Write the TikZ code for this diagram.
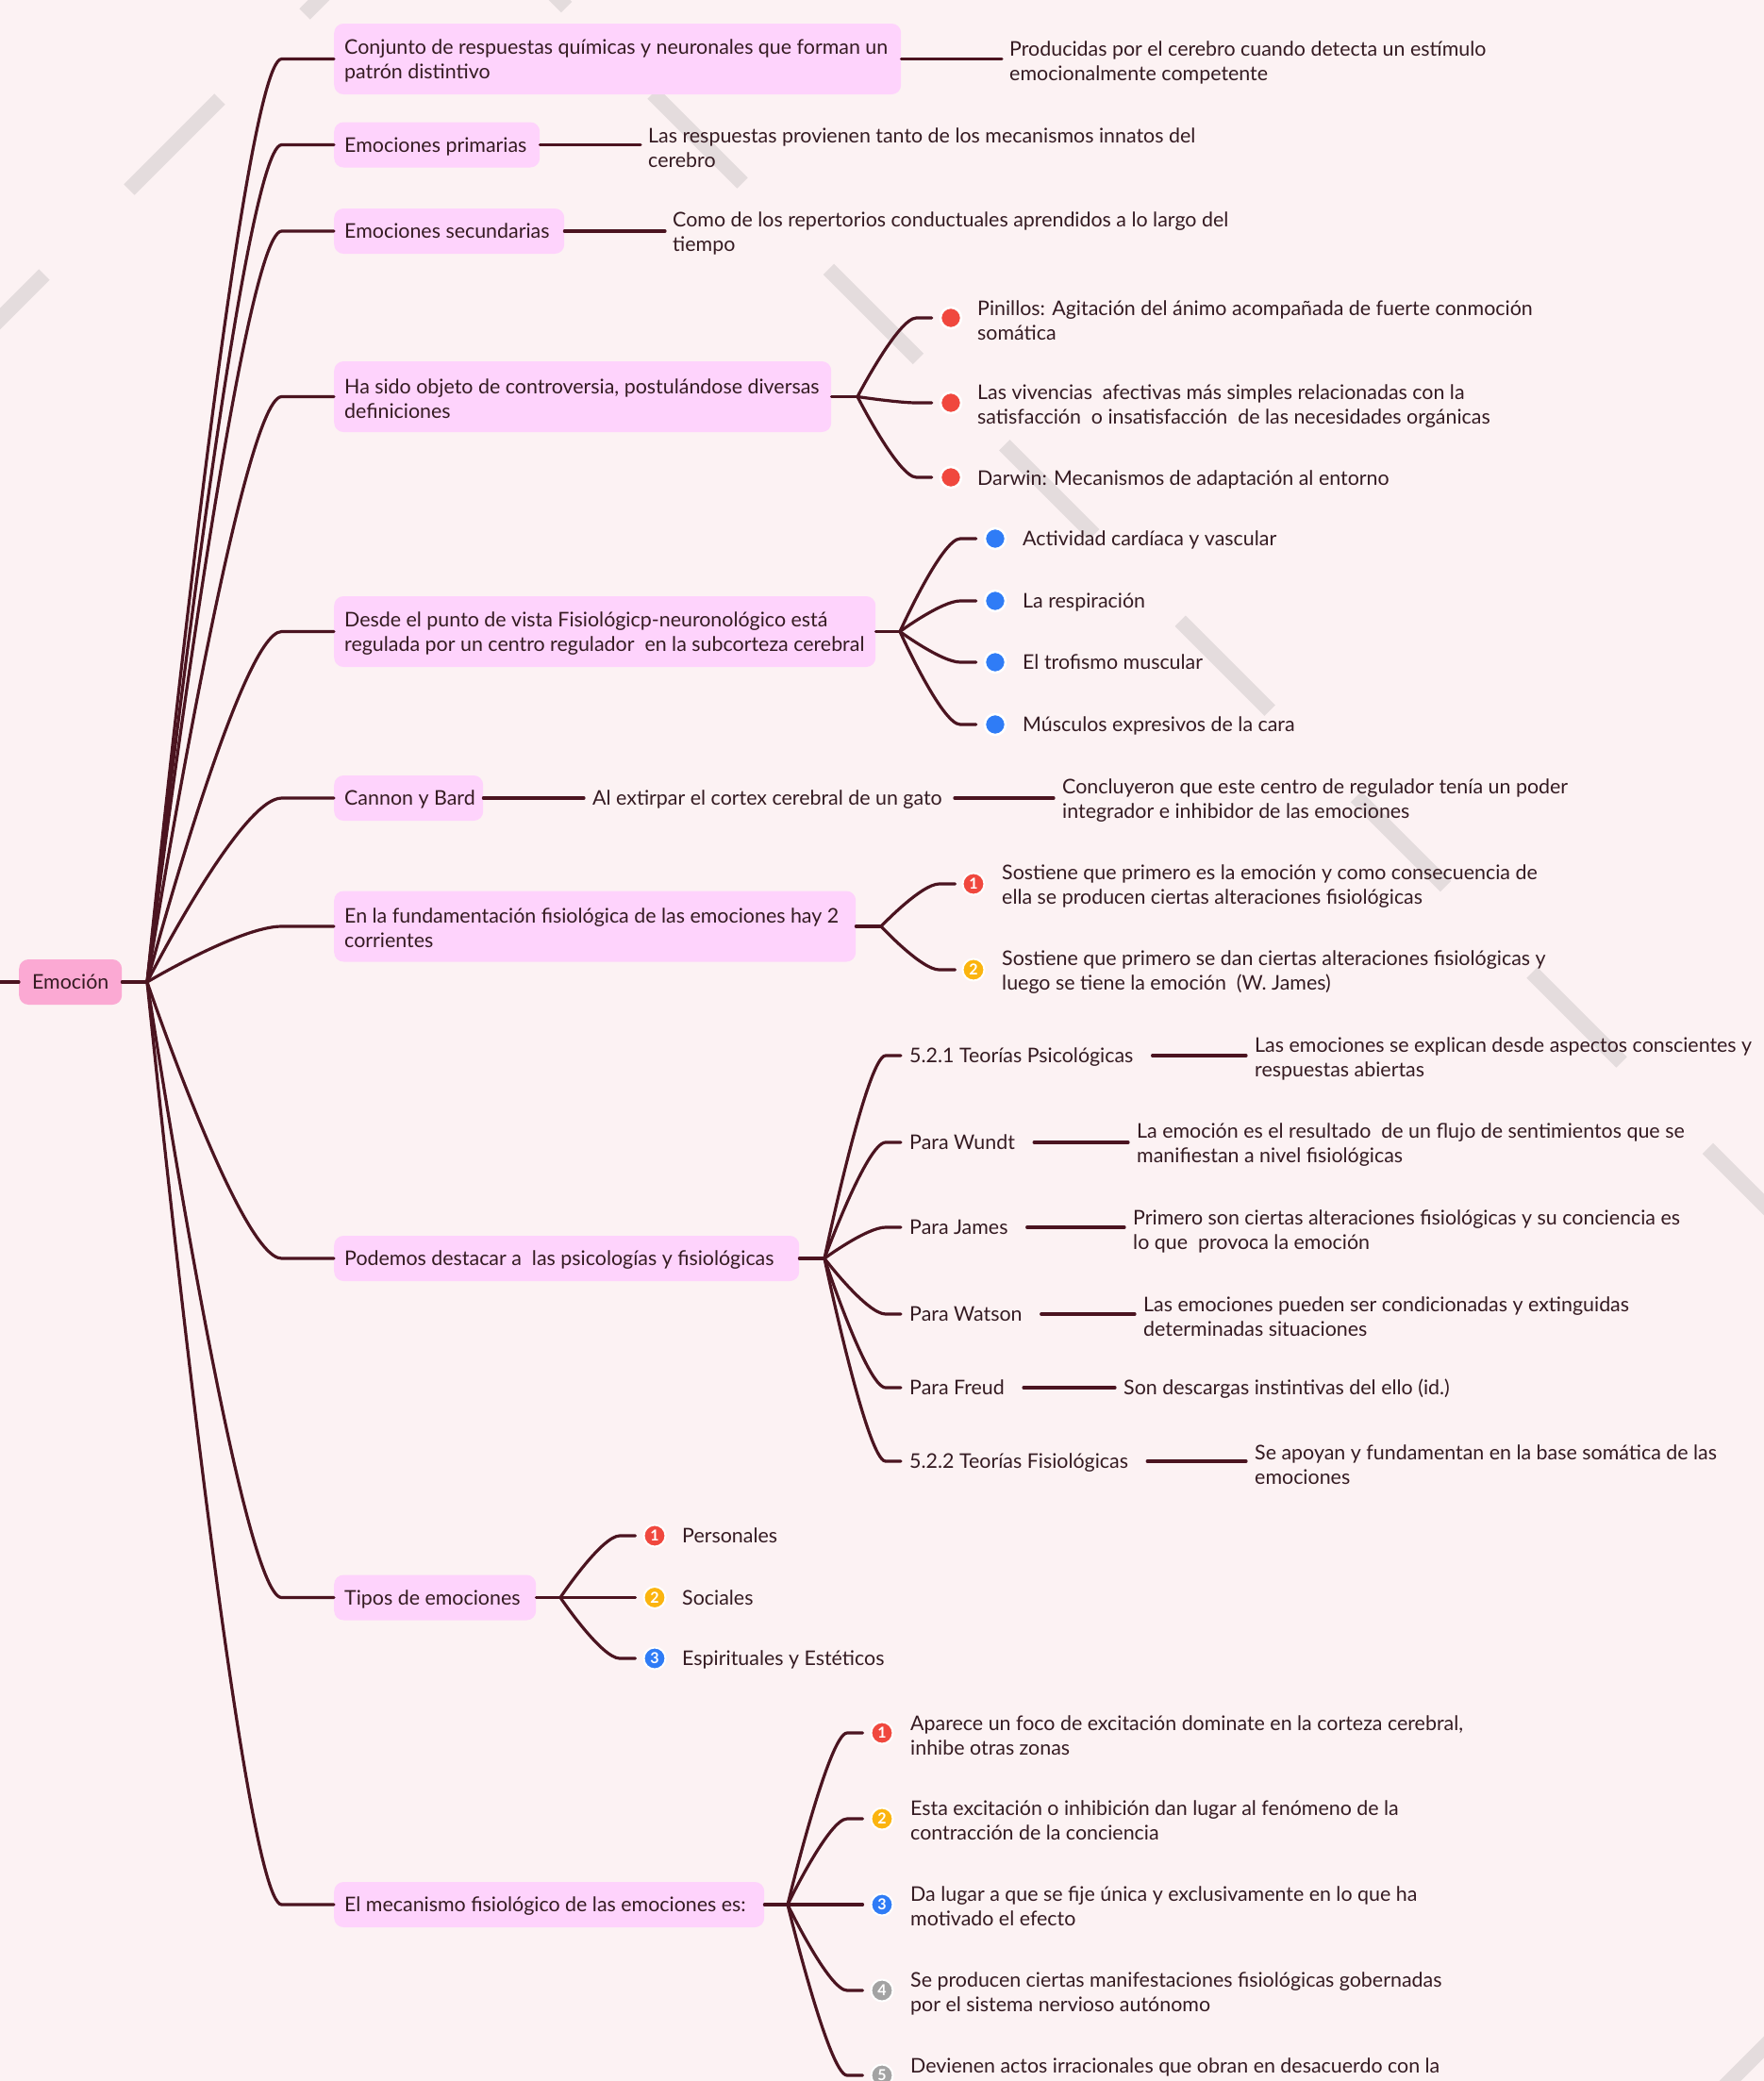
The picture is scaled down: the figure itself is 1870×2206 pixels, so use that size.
\documentclass[tikz,border=0pt]{standalone}
\usepackage{fontspec}
\setmainfont{Lato}
\usetikzlibrary{calc}
\definecolor{bgc}{HTML}{FCF2F3}
\definecolor{lnc}{HTML}{4B1420}
\definecolor{txc}{HTML}{351B22}
\definecolor{bxc}{HTML}{FED3FC}
\definecolor{rtc}{HTML}{FBA9D3}
\definecolor{wmc}{HTML}{E4DCDD}
\definecolor{crc}{HTML}{F0483E}
\definecolor{cyc}{HTML}{FBB40F}
\definecolor{cbc}{HTML}{2F7CF6}
\definecolor{cgc}{HTML}{A3A3A3}
\newcommand{\topstrut}{\rule{0pt}{20pt}}
\newcommand{\bline}[1]{\mbox{\spaceskip=0pt\xspaceskip=0pt\relax #1}}
\begin{document}
\begin{tikzpicture}[x=1pt,y=-1pt,
  every node/.style={text=txc, font=\fontsize{21.4}{26}\selectfont},
  conn/.style={draw=lnc, line width=3.2pt, line cap=round},
  curvy/.style={to path={let \p1=(\tikztostart), \p2=(\tikztotarget) in
     .. controls (\p1) and ({\x1+0.5*(\x2-\x1)},\y2) .. ({\x1+0.72*(\x2-\x1)},\y2) -- (\p2)}},
  box/.style={fill=bxc, rounded corners=10pt, anchor=west, inner xsep=11pt, inner ysep=0pt, align=left},
  sbox/.style={box, text height=17.5pt, text depth=2.5pt, minimum height=48pt},
  dbox/.style={box, minimum height=75pt},
  txt/.style={anchor=west, inner sep=0pt, align=left, yshift=-2pt},
  one/.style={anchor=west, inner sep=0pt, text height=17.5pt, text depth=2.5pt},
  bul/.style={circle, fill=#1, draw=white, line width=2.5pt, minimum size=22pt, inner sep=0pt},
  nbadge/.style={circle, fill=#1, draw=white, line width=2pt, minimum size=23pt, inner sep=0pt, text=white, font=\fontsize{16}{16}\selectfont\bfseries},
  wm/.style={draw=wmc, line width=16pt}
]
\useasboundingbox (0,0) rectangle (1870,2206);
\clip (0,0) rectangle (1870,2206);
\fill[bgc] (0,0) rectangle (1870,2206);

% watermark stripes
\foreach \s in {505.6,692,878.4,1064.8,1251.2,1437.6,1624,1810.4}
  \draw[wm] (\s,{\s-593}) -- ({\s+95},{\s-498});
\foreach \s in {-49,137,323}
  \draw[wm] (\s,{338-\s}) -- ({\s+96},{242-\s});
\draw[wm] (1790,2250) -- (1886,2154);

% root
\node[sbox, minimum width=109pt, fill=rtc] (root) at (20,1041) {Emoción};
\coordinate (L) at (0,1041);
\coordinate (R) at (156,1041);
\draw[conn] (L) -- (root.west);
\draw[conn] (root.east) -- (R);

% level 1
\node[dbox, text width=579pt] (b1) at (354,62.5) {\bline{\topstrut Conjunto de respuestas químicas y neuronales que forman un}\\\bline{patrón distintivo}};
\node[sbox, text width=196pt] (b2) at (354,153.5) {\bline{Emociones primarias}};
\node[sbox, text width=222pt] (b3) at (354,245) {\bline{Emociones secundarias}};
\node[dbox, text width=505pt] (b4) at (354,420.5) {\bline{\topstrut Ha sido objeto de controversia, postulándose diversas}\\\bline{definiciones}};
\node[dbox, text width=552pt] (b5) at (354,669.5) {\bline{\topstrut Desde el punto de vista Fisiológicp-neuronológico está}\\\bline{regulada por un centro regulador~ en la subcorteza cerebral}};
\node[sbox, text width=136pt] (b6) at (354,846) {\bline{Cannon y Bard}};
\node[dbox, text width=531pt] (b7) at (354,982) {\bline{\topstrut En la fundamentación fisiológica de las emociones hay 2}\\\bline{corrientes}};
\node[sbox, text width=471pt] (b8) at (354,1334) {\bline{Podemos destacar a~ las psicologías y fisiológicas}};
\node[sbox, text width=192pt] (b9) at (354,1693.5) {\bline{Tipos de emociones}};
\node[sbox, text width=434pt] (b10) at (354,2019) {\bline{El mecanismo fisiológico de las emociones es:}};
\foreach \i in {1,...,10} \draw[conn] (R) to[curvy] (b\i.west);

% b1-b3
\node[txt] (t1) at (1070,64) {Producidas por el cerebro cuando detecta un estímulo\\emocionalmente competente};
\node[txt] (t2) at (687,155) {Las respuestas provienen tanto de los mecanismos innatos del\\cerebro};
\node[txt] (t3) at (713,245) {Como de los repertorios conductuales aprendidos a lo largo del\\tiempo};
\draw[conn, shorten >=8pt] (b1.east) -- (b1.east -| t1.west);
\draw[conn, shorten >=8pt] (b2.east) -- (b2.east -| t2.west);
\draw[conn, shorten >=8pt] (b3.east) -- (b3.east -| t3.west);

% b4
\coordinate (j4) at (909,420.5);
\draw[conn] (b4.east) -- (j4);
\node[bul=crc] (d41) at (1008,337) {};
\node[bul=crc] (d42) at (1008,427) {};
\node[bul=crc] (d43) at (1008,506) {};
\foreach \k in {1,2,3} \draw[conn, shorten >=8pt] (j4) to[curvy] (d4\k.west);
\node[txt] (t41) at (1036,337.5) {Pinillos: Agitación del ánimo acompañada de fuerte conmoción\\somática};
\node[txt] (t42) at (1036,428.5) {Las vivencias~ afectivas más simples relacionadas con la\\satisfacción~ o insatisfacción~ de las necesidades orgánicas};
\node[one] (t43) at (1036,507) {Darwin: Mecanismos de adaptación al entorno};

% b5
\coordinate (j5) at (954,669.5);
\draw[conn] (b5.east) -- (j5);
\node[bul=cbc] (d51) at (1055,571) {};
\node[bul=cbc] (d52) at (1055,637) {};
\node[bul=cbc] (d53) at (1055,702) {};
\node[bul=cbc] (d54) at (1055,768) {};
\foreach \k in {1,2,3,4} \draw[conn, shorten >=8pt] (j5) to[curvy] (d5\k.west);
\node[one] (t51) at (1084,571) {Actividad cardíaca y vascular};
\node[one] (t52) at (1084,637) {La respiración};
\node[one] (t53) at (1084,702) {El trofismo muscular};
\node[one] (t54) at (1084,768) {Músculos expresivos de la cara};

% b6
\node[one] (t61) at (628,846) {Al extirpar el cortex cerebral de un gato};
\node[txt] (t62) at (1126,846.5) {Concluyeron que este centro de regulador tenía un poder\\integrador e inhibidor de las emociones};
\draw[conn, shorten >=9pt] (b6.east) -- (b6.east -| t61.west);
\draw[conn, shorten <=13pt, shorten >=9pt] (t61.east) -- (t61.east -| t62.west);

% b7
\coordinate (j7) at (934,982);
\draw[conn] (b7.east) -- (j7);
\node[nbadge=crc] (n71) at (1032,937) {1};
\node[nbadge=cyc] (n72) at (1032,1028) {2};
\draw[conn, shorten >=7pt] (j7) to[curvy] (n71.west);
\draw[conn, shorten >=7pt] (j7) to[curvy] (n72.west);
\node[txt] (t71) at (1062,938) {Sostiene que primero es la emoción y como consecuencia de\\ella se producen ciertas alteraciones fisiológicas};
\node[txt] (t72) at (1062,1029) {Sostiene que primero se dan ciertas alteraciones fisiológicas y\\luego se tiene la emoción~ (W. James)};

% b8
\coordinate (j8) at (874,1334);
\draw[conn] (b8.east) -- (j8);
\node[one] (p1) at (964,1119) {5.2.1 Teorías Psicológicas};
\node[one] (p2) at (964,1211) {Para Wundt};
\node[one] (p3) at (964,1301) {Para James};
\node[one] (p4) at (964,1393) {Para Watson};
\node[one] (p5) at (964,1471) {Para Freud};
\node[one] (p6) at (964,1549) {5.2.2 Teorías Fisiológicas};
\foreach \k in {1,...,6} \draw[conn, shorten >=9pt] (j8) to[curvy] (p\k.west);
\node[txt] (q1) at (1330,1120) {Las emociones se explican desde aspectos conscientes y\\respuestas abiertas};
\node[txt] (q2) at (1205,1211.5) {La emoción es el resultado~ de un flujo de sentimientos que se\\manifiestan a nivel fisiológicas};
\node[txt] (q3) at (1201,1303) {Primero son ciertas alteraciones fisiológicas y su conciencia es\\lo que~ provoca la emoción};
\node[txt] (q4) at (1212,1394) {Las emociones pueden ser condicionadas y extinguidas\\determinadas situaciones};
\node[one] (q5) at (1191,1471) {Son descargas instintivas del ello (id.)};
\node[txt] (q6) at (1330,1550.5) {Se apoyan y fundamentan en la base somática de las\\emociones};
\foreach \k in {1,...,6} \draw[conn, shorten <=20pt, shorten >=9pt] (p\k.east) -- (p\k.east -| q\k.west);

% b9
\coordinate (j9) at (594,1693.5);
\draw[conn] (b9.east) -- (j9);
\node[nbadge=crc] (n91) at (694,1628) {1};
\node[nbadge=cyc] (n92) at (694,1693.5) {2};
\node[nbadge=cbc] (n93) at (694,1758) {3};
\foreach \k in {1,2,3} \draw[conn, shorten >=8pt] (j9) to[curvy] (n9\k.west);
\node[one] (t91) at (723,1628) {Personales};
\node[one] (t92) at (723,1693.5) {Sociales};
\node[one] (t93) at (723,1758) {Espirituales y Estéticos};

% b10
\coordinate (j10) at (835,2019);
\draw[conn] (b10.east) -- (j10);
\node[nbadge=crc] (m1) at (935,1837) {1};
\node[nbadge=cyc] (m2) at (935,1928) {2};
\node[nbadge=cbc] (m3) at (935,2019) {3};
\node[nbadge=cgc] (m4) at (935,2110) {4};
\node[nbadge=cgc] (m5) at (935,2200) {5};
\foreach \k in {1,...,5} \draw[conn, shorten >=8pt] (j10) to[curvy] (m\k.west);
\node[txt] (u1) at (965,1837.5) {Aparece un foco de excitación dominate en la corteza cerebral,\\inhibe otras zonas};
\node[txt] (u2) at (965,1928) {Esta excitación o inhibición dan lugar al fenómeno de la\\contracción de la conciencia};
\node[txt] (u3) at (965,2019) {Da lugar a que se fije única y exclusivamente en lo que ha\\motivado el efecto};
\node[txt] (u4) at (965,2111) {Se producen ciertas manifestaciones fisiológicas gobernadas\\por el sistema nervioso autónomo};
\node[one] (u5) at (965,2190) {Devienen actos irracionales que obran en desacuerdo con la};
\end{tikzpicture}
\end{document}
